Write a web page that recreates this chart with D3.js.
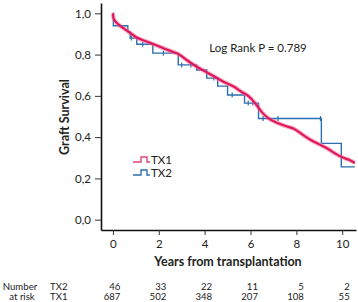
<!DOCTYPE html>
<html><head><meta charset="utf-8">
<script src="https://cdn.jsdelivr.net/npm/d3@7/dist/d3.min.js"></script>
<style>body{margin:0;background:#fff}svg{display:block}text{font-family:Lato,"Open Sans",sans-serif;fill:#222}</style>
</head><body><svg id="c" width="358" height="302"></svg>
<script>
const yTicks = [0, 0.2, 0.4, 0.6, 0.8, 1.0];
const xTicks = [0, 2, 4, 6, 8, 10];
const groups = ["TX1", "TX2"];
// TX1 curve (time, survival)
const tx1Time = [0,0.03,0.1,0.25,0.5,0.75,1.0,1.5,2.0,2.5,2.9,3.2,3.6,4.0,4.4,4.8,5.3,5.6,5.9,6.2,6.5,6.8,7.1,7.5,7.9,8.3,8.65,9.0,9.35,9.7,10.0,10.3,10.55];
const tx1Surv = [1.0,0.975,0.962,0.945,0.925,0.905,0.885,0.862,0.84,0.818,0.80,0.775,0.745,0.72,0.695,0.67,0.643,0.62,0.60,0.565,0.52,0.49,0.472,0.455,0.44,0.41,0.385,0.365,0.345,0.32,0.302,0.29,0.275];
// TX2 step curve (event time, survival after event)
const tx2Time = [0,0.02,0.65,0.75,1.04,1.74,2.85,3.65,4.09,4.57,5.0,5.74,6.35,9.09,9.96,10.55];
const tx2Surv = [1.0,0.94,0.91,0.88,0.85,0.807,0.75,0.725,0.686,0.647,0.604,0.565,0.49,0.37,0.256,0.256];
const tx2CensorTime = [0.8,1.3,2.2,3.0,3.4,4.4,5.2,5.9,6.1,6.55,7.2,9.05];
const riskTimes = [0,2,4,6,8,10];
const riskTX2 = [46,33,22,11,5,2];
const riskTX1 = [687,502,348,207,108,55];
const pLabel = "Log Rank P = 0.789";

const svg = d3.select("#c");
const x = d3.scaleLinear().domain([-0.52, 10.6]).range([101, 356]);
const y = d3.scaleLinear().domain([-0.05, 1.05]).range([230, 3]);
const red = "#e0175a", blue = "#2b6fb0";

// axes
const gx = svg.append("g").attr("transform","translate(0,230)")
  .call(d3.axisBottom(x).tickValues(xTicks).tickSize(5).tickSizeOuter(0).tickFormat(d3.format("d")));
const gy = svg.append("g").attr("transform","translate(101,0)")
  .call(d3.axisLeft(y).tickValues(yTicks).tickSize(6).tickSizeOuter(0).tickFormat(d=>d3.format(".1f")(d).replace(".",",")));
[gx,gy].forEach(g=>{g.select(".domain").attr("stroke","#111").attr("stroke-width",1.6);
  g.selectAll(".tick line").attr("stroke","#333");
  g.selectAll(".tick text").style("font-size","11.5px").attr("fill","#333");});
gx.selectAll(".tick text").attr("dy","0.9em");
gy.selectAll(".tick text").attr("dx","-1");

// TX2
const tx2 = tx2Time.map((t,i)=>[t,tx2Surv[i]]);
svg.append("path").datum(tx2).attr("fill","none").attr("stroke",blue).attr("stroke-width",1.4)
  .attr("d", d3.line().x(d=>x(d[0])).y(d=>y(d[1])).curve(d3.curveStepAfter));
const survAt = t => { let s=1; tx2Time.forEach((tt,i)=>{ if(tt<=t) s=tx2Surv[i]; }); return s; };
svg.append("g").selectAll("line").data(tx2CensorTime).join("line")
  .attr("x1",d=>x(d)).attr("x2",d=>x(d)).attr("y1",d=>y(survAt(d))-2.5).attr("y2",d=>y(survAt(d))+2.5)
  .attr("stroke",blue).attr("stroke-width",1.2);

// TX1
const tx1 = tx1Time.map((t,i)=>[t,tx1Surv[i]]);
const l1 = d3.line().x(d=>x(d[0])).y(d=>y(d[1])).curve(d3.curveMonotoneX);
svg.append("path").datum(tx1).attr("fill","none").attr("stroke","#ee7099").attr("stroke-opacity",0.5).attr("stroke-width",4.4).attr("d",l1);
svg.append("path").datum(tx1).attr("fill","none").attr("stroke",red).attr("stroke-width",2.2).attr("d",l1);

// p-value
svg.append("text").attr("x",258).attr("y",52).attr("text-anchor","middle").style("font-size","11.5px").attr("fill","#333").text(pLabel);

// legend
const legCol = {TX1:"#e0457b", TX2:blue};
groups.forEach((g,i)=>{
  const yy = 162 + i*13;
  svg.append("path").attr("d",`M133,${yy}H141V${yy-5}H147V${yy}H150`).attr("fill","none").attr("stroke",legCol[g]).attr("stroke-width",1.4);
  svg.append("text").attr("x",151).attr("y",yy+2).style("font-size","11.5px").attr("fill","#333").text(g);
});

// titles
svg.append("text").attr("x",228).attr("y",266).attr("text-anchor","middle").style("font-size","12.5px").style("font-weight","bold").attr("fill","#222").text("Years from transplantation");
svg.append("text").attr("transform","translate(69,117) rotate(-90)").attr("text-anchor","middle").style("font-size","12.5px").style("font-weight","bold").attr("fill","#222").text("Graft Survival");

// numbers at risk
const fs = "9.6px";
svg.append("text").attr("x",20).attr("y",290).attr("text-anchor","middle").style("font-size",fs).text("Number");
svg.append("text").attr("x",22).attr("y",300).attr("text-anchor","middle").style("font-size",fs).text("at risk");
svg.append("text").attr("x",50).attr("y",290).style("font-size",fs).text("TX2");
svg.append("text").attr("x",50).attr("y",300).style("font-size",fs).text("TX1");
svg.append("g").selectAll("text").data(riskTimes).join("text").attr("x",d=>x(d)+7.5).attr("y",290).attr("text-anchor","end").style("font-size",fs).text((d,i)=>riskTX2[i]);
svg.append("g").selectAll("text").data(riskTimes).join("text").attr("x",d=>x(d)+7.5).attr("y",300).attr("text-anchor","end").style("font-size",fs).text((d,i)=>riskTX1[i]);
</script></body></html>
